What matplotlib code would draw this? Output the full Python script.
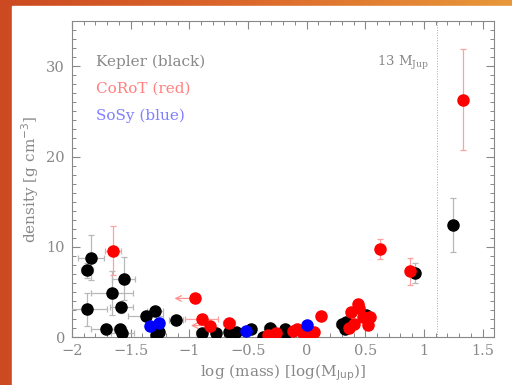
import numpy as np
import matplotlib
matplotlib.use("Agg")
import matplotlib.pyplot as plt

# Kepler (schwarz)
kep_x = [-1.84, -1.87, -1.56, -1.66, -1.87, -1.58, -1.71, -1.59, -1.57, -1.37, -1.29, -1.28, -1.26, -1.11,
         -0.895, -0.77, -0.66, -0.60, -0.47, -0.37, -0.31, -0.21, -0.18, -0.18, 0.30, 0.33, 0.34, 0.51, 0.92, 1.25]
kep_y = [8.8, 7.4, 6.5, 4.9, 3.1, 3.3, 0.9, 0.9, 0.5, 2.4, 2.9, 0.26, 0.6, 1.9,
         0.44, 0.44, 0.6, 0.55, 0.9, 0.07, 1.0, 0.37, 0.9, 0.4, 1.5, 0.9, 1.7, 2.5, 7.1, 12.4]
kep_xerr = [0.11, 0.05, 0.1, 0.18, 0.17, 0.1, 0.13, 0.05, 0.1, 0.15, 0.07, 0.05, 0.04, 0.06,
            0.05, 0.03, 0.03, 0.03, 0.03, 0.03, 0.05, 0.03, 0.03, 0.03, 0.05, 0.03, 0.03, 0.03, 0.02, 0.0]
kep_yerr = [2.5, 0.8, 2.4, 2.4, 1.8, 0.6, 0.3, 0.3, 0.3, 0.5, 0.4, 0.1, 0.2, 0.3,
            0.1, 0.1, 0.1, 0.1, 0.1, 0.05, 0.2, 0.1, 0.2, 0.1, 0.3, 0.2, 0.2, 0.3, 1.1, 3.0]

# CoRoT (rot)
cor_x = [-1.65, -0.95, -0.895, -0.82, -0.66, -0.33, -0.26, -0.12, -0.08, -0.03, 0.03, 0.065,
         0.12, 0.36, 0.40, 0.38, 0.44, 0.45, 0.48, 0.54, 0.52, 0.625, 0.88, 1.335]
cor_y = [9.6, 4.3, 2.0, 1.3, 1.6, 0.26, 0.5, 0.7, 0.9, 0.5, 0.5, 0.55,
         2.4, 1.0, 1.5, 2.8, 3.7, 3.2, 2.3, 2.2, 1.4, 9.8, 7.3, 26.3]
cor_xerr = [0.07, 0, 0.14, 0, 0.05, 0.03, 0.03, 0.03, 0.03, 0.02, 0.02, 0.02,
            0, 0.02, 0.02, 0.02, 0.02, 0.02, 0.02, 0.02, 0.02, 0, 0, 0]
cor_yerr = [2.7, 0, 0.5, 0, 0.3, 0.1, 0.1, 0.1, 0.1, 0.1, 0.1, 0.1,
            0, 0.2, 0.2, 0.3, 0.5, 0.4, 0.3, 0.6, 0.3, 1.1, 1.5, 5.6]
# Obergrenzen der Masse (Pfeile nach links)
ul_x = [-0.95, -0.82]
ul_y = [4.3, 1.3]
ul_len = [0.2, 0.19]

# Sonnensystem (blau)
sos_x = [-1.335, -1.26, -0.52, 0.0]
sos_y = [1.3, 1.6, 0.7, 1.36]

mjup13 = np.log10(13)

grau = '#888888'
fig = plt.figure(figsize=(5.12, 3.85), dpi=100)

# orange Hintergrund mit Verlauf
bg = fig.add_axes([0, 0, 1, 1])
grad = np.linspace(0, 1, 256).reshape(1, -1)
from matplotlib.colors import LinearSegmentedColormap
cmap = LinearSegmentedColormap.from_list('o', ['#cc4a22', '#dc6a2c', '#e8983a'])
bg.imshow(grad, aspect='auto', cmap=cmap, extent=[0, 1, 0, 1])
bg.add_patch(plt.Rectangle((12 / 512, 0), 1, 1 - 6 / 385, color='white', zorder=2))
bg.set_xlim(0, 1)
bg.set_ylim(0, 1)
bg.axis('off')

ax = fig.add_axes([0.1406, 0.1239, 0.8248, 0.8216])
ax.set_facecolor('none')

ax.errorbar(kep_x, kep_y, xerr=kep_xerr, yerr=kep_yerr, fmt='o', color='black', ms=8,
            ecolor='#b8b8b8', elinewidth=0.9, capsize=2.5, capthick=0.9, zorder=3)
ax.errorbar(cor_x, cor_y, xerr=cor_xerr, yerr=cor_yerr, fmt='o', color='#ff0000', ms=8,
            ecolor='#ffa0a0', elinewidth=0.9, capsize=2.5, capthick=0.9, zorder=4)
for x, y, l in zip(ul_x, ul_y, ul_len):
    ax.annotate('', xy=(x - l, y), xytext=(x, y),
                arrowprops=dict(arrowstyle='->', color='#ff9090', lw=0.9), zorder=3)
ax.plot(sos_x, sos_y, 'o', color='#0000ff', ms=8, zorder=5)

ax.axvline(mjup13, color='#aaaaaa', lw=0.7, ls=':')

ax.set_xlim(-2, 1.6)
ax.set_ylim(0, 35)
ax.set_xticks([-2, -1.5, -1, -0.5, 0, 0.5, 1, 1.5])
ax.set_xticklabels(['\u22122', '\u22121.5', '\u22121', '\u22120.5', '0', '0.5', '1', '1.5'])
ax.set_xticks(np.arange(-2, 1.61, 0.1), minor=True)
ax.set_yticks([0, 10, 20, 30])
ax.set_yticks(np.arange(0, 35.1, 1), minor=True)
ax.tick_params(which='both', direction='in', top=True, right=True, colors=grau,
               labelsize=10.5, labelfontfamily='DejaVu Serif', pad=5)
ax.tick_params(which='major', length=6, width=0.8)
ax.tick_params(which='minor', length=3, width=0.7)
for s in ax.spines.values():
    s.set_color(grau)

ax.set_xlabel(r'log (mass) [log(M$_{\rm Jup}$)]', color=grau, fontsize=11, family='DejaVu Serif', labelpad=3)
ax.set_ylabel(r'density [g cm$^{-3}$]', color=grau, fontsize=11, family='DejaVu Serif', labelpad=4)
plt.rcParams['mathtext.fontset'] = 'dejavuserif'

ax.text(0.058, 0.871, 'Kepler (black)', transform=ax.transAxes, color=grau, fontsize=11,
        family='DejaVu Serif', va='center')
ax.text(0.058, 0.785, 'CoRoT (red)', transform=ax.transAxes, color='#ff7f7f', fontsize=11,
        family='DejaVu Serif', va='center')
ax.text(0.058, 0.700, 'SoSy (blue)', transform=ax.transAxes, color='#7f7fff', fontsize=11,
        family='DejaVu Serif', va='center')
ax.text(1.045, 30.3, r'13 M$_{\rm Jup}$', color=grau, fontsize=9.5, family='DejaVu Serif',
        ha='right', va='center')

fig.savefig('out.png', dpi=100)
